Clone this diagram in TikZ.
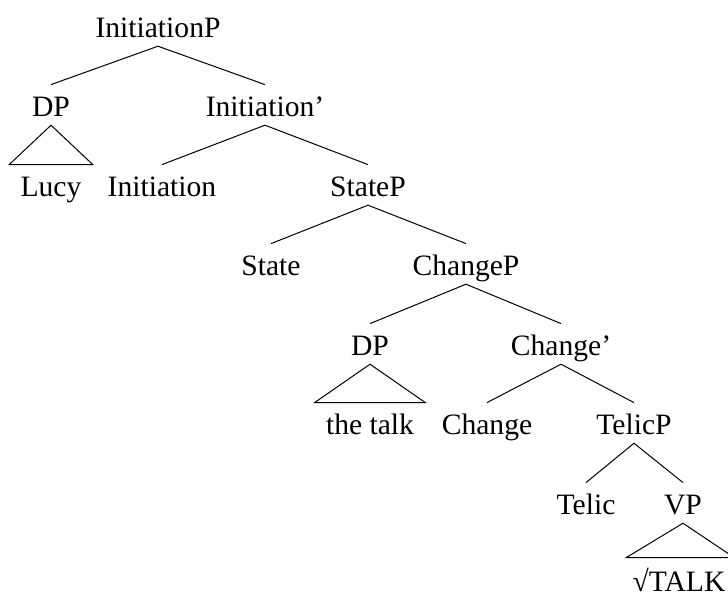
\documentclass[tikz,border=0pt]{standalone}
\usepackage{fontspec}
\setmainfont{Liberation Serif}
\begin{document}
\begin{tikzpicture}[x=0.5pt,y=-0.5pt,
  lbl/.style={anchor=base,inner xsep=0pt,inner ysep=0pt,text height=15.5pt,text depth=4.4pt,font=\fontsize{14.8pt}{18pt}\selectfont},
  roof/.style={lbl,inner xsep=5.5pt},
  edge/.style={line width=0.5pt}]
\useasboundingbox (0,0) rectangle (728,595);
% levels: baselines
\def\la{37}\def\lb{116}\def\lc{196}\def\ld{275}\def\le{355}\def\lf{434}\def\lg{514}\def\lh{591}
\node[lbl] (ip) at (158,\la) {InitiationP};
\node[lbl] (dp1) at (51,\lb) {DP};
\node[lbl] (ib) at (265,\lb) {Initiation’};
\node[roof] (lucy) at (51,\lc) {Lucy};
\node[lbl] (init) at (162,\lc) {Initiation};
\node[lbl] (sp) at (368,\lc) {StateP};
\node[lbl] (state) at (271,\ld) {State};
\node[lbl] (cp) at (466,\ld) {ChangeP};
\node[lbl] (dp2) at (370,\le) {DP};
\node[lbl] (cb) at (561,\le) {Change’};
\node[roof] (talk) at (370,\lf) {the talk};
\node[lbl] (change) at (487,\lf) {Change};
\node[lbl] (tp) at (634,\lf) {TelicP};
\node[lbl] (telic) at (586,\lg) {Telic};
\node[lbl] (vp) at (683,\lg) {VP};
\node[roof,inner xsep=3pt,text depth=1pt,text height=16.5pt] (root) at (679,\lh) {√TALK};
\draw[edge] (ip.south) -- (dp1.north);
\draw[edge] (ip.south) -- (ib.north);
\draw[edge] (dp1.south) -- (lucy.north west) -- (lucy.north east) -- cycle;
\draw[edge] (ib.south) -- (init.north);
\draw[edge] (ib.south) -- (sp.north);
\draw[edge] (sp.south) -- (state.north);
\draw[edge] (sp.south) -- (cp.north);
\draw[edge] (cp.south) -- (dp2.north);
\draw[edge] (cp.south) -- (cb.north);
\draw[edge] (dp2.south) -- (talk.north west) -- (talk.north east) -- cycle;
\draw[edge] (cb.south) -- (change.north);
\draw[edge] (cb.south) -- (tp.north);
\draw[edge] (tp.south) -- (telic.north);
\draw[edge] (tp.south) -- (vp.north);
\draw[edge] (vp.south) -- (root.north west) -- ++(108,0) -- cycle;
\end{tikzpicture}
\end{document}
